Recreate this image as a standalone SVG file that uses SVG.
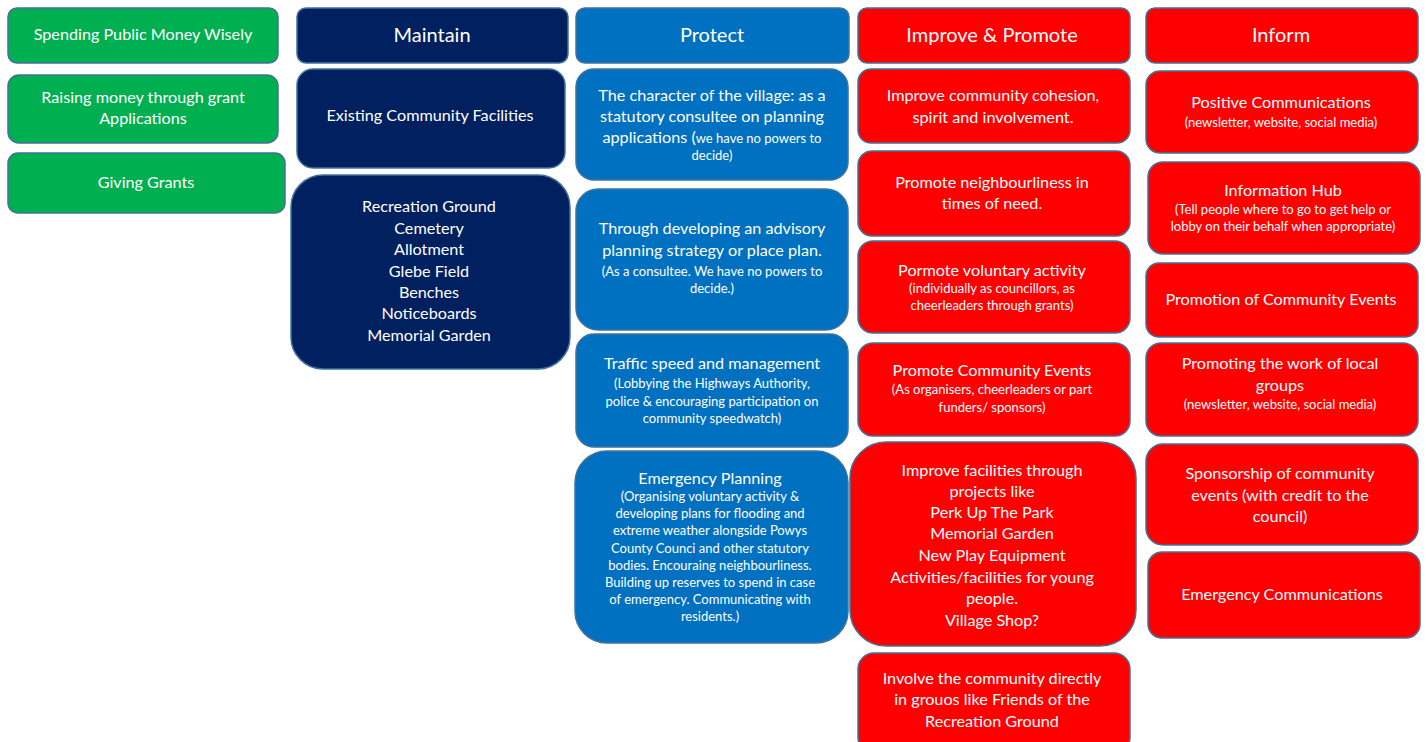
<svg xmlns="http://www.w3.org/2000/svg" width="1426" height="742" viewBox="0 0 1426 742">
<style>
.g,.n,.b,.r{stroke:#41719C;stroke-width:1.5}
.g{fill:#00B050}.n{fill:#002060}.b{fill:#0070C0}.r{fill:#FF0000}
text{font-family:Lato,"Liberation Sans",sans-serif;fill:#fff;text-anchor:middle;font-size:16.2px}
.h{font-size:20px}
.s{font-size:13px}
</style>
<rect width="1426" height="742" fill="#fff"/>
<g id="green-1"><rect class="g" x="8" y="8" width="270" height="55" rx="9"/><text x="143" y="40">Spending Public Money Wisely</text></g>
<g id="green-2"><rect class="g" x="8" y="75" width="270" height="68" rx="11"/><text x="143" y="103">Raising money through grant</text><text x="143" y="124">Applications</text></g>
<g id="green-3"><rect class="g" x="8" y="153" width="277" height="60" rx="10"/><text x="146" y="188">Giving Grants</text></g>

<g id="maintain"><rect class="n" x="297" y="8" width="271" height="55" rx="9"/><text class="h" x="432" y="42">Maintain</text></g>
<g id="existing"><rect class="n" x="297" y="69" width="268" height="99" rx="16"/><text x="430" y="121">Existing Community Facilities</text></g>
<g id="facilities"><rect class="n" x="291" y="175" width="279" height="194" rx="32"/>
<text x="429" y="212">Recreation Ground</text><text x="429" y="234">Cemetery</text><text x="429" y="255">Allotment</text><text x="429" y="277">Glebe Field</text><text x="429" y="298">Benches</text><text x="429" y="319">Noticeboards</text><text x="429" y="341">Memorial Garden</text></g>

<g id="protect"><rect class="b" x="576" y="8" width="273" height="55" rx="9"/><text class="h" x="712" y="42">Protect</text></g>
<g id="character"><rect class="b" x="576" y="69" width="272" height="111" rx="18"/>
<text x="712" y="101">The character of the village: as a</text><text x="712" y="122">statutory consultee on planning</text><text x="712" y="143">applications (<tspan class="s">we have no powers to</tspan></text><text class="s" x="712" y="160">decide)</text></g>
<g id="advisory"><rect class="b" x="576" y="189" width="272" height="141" rx="22"/>
<text x="712" y="234">Through developing an advisory</text><text x="712" y="256">planning strategy or place plan.</text><text class="s" x="712" y="276">(As a consultee. We have no powers to</text><text class="s" x="712" y="293">decide.)</text></g>
<g id="traffic"><rect class="b" x="576" y="334" width="272" height="113" rx="18"/>
<text x="712" y="369">Traffic speed and management</text><text class="s" x="712" y="388">(Lobbying the Highways Authority,</text><text class="s" x="712" y="406">police &amp; encouraging participation on</text><text class="s" x="712" y="423">community speedwatch)</text></g>
<g id="emergency-planning"><rect class="b" x="575" y="451" width="273" height="192" rx="32"/>
<text x="710" y="484">Emergency Planning</text>
<text class="s" x="710" y="501">(Organising voluntary activity &amp;</text><text class="s" x="710" y="518">developing plans for flooding and</text><text class="s" x="710" y="535">extreme weather alongside Powys</text><text class="s" x="710" y="553">County Counci and other statutory</text><text class="s" x="710" y="570">bodies. Encouraing neighbourliness.</text><text class="s" x="710" y="587">Building up reserves to spend in case</text><text class="s" x="710" y="604">of emergency. Communicating with</text><text class="s" x="710" y="621">residents.)</text></g>

<g id="improve"><rect class="r" x="858" y="8" width="272" height="55" rx="9"/><text class="h" x="992" y="42">Improve &amp; Promote</text></g>
<g id="cohesion"><rect class="r" x="858" y="69" width="272" height="74" rx="13"/><text x="993" y="101">Improve community cohesion,</text><text x="993" y="123">spirit and involvement.</text></g>
<g id="neighbourliness"><rect class="r" x="858" y="151" width="272" height="85" rx="14"/><text x="992" y="188">Promote neighbourliness in</text><text x="992" y="209">times of need.</text></g>
<g id="voluntary"><rect class="r" x="858" y="241" width="272" height="92" rx="15"/><text x="992" y="276">Pormote voluntary activity</text><text class="s" x="992" y="293">(individually as councillors, as</text><text class="s" x="992" y="310">cheerleaders through grants)</text></g>
<g id="community-events"><rect class="r" x="858" y="343" width="272" height="93" rx="15"/><text x="992" y="376">Promote Community Events</text><text class="s" x="992" y="394">(As organisers, cheerleaders or part</text><text class="s" x="992" y="412">funders/ sponsors)</text></g>
<g id="improve-facilities"><rect class="r" x="850" y="442" width="286" height="204" rx="36"/>
<text x="992" y="476">Improve facilities through</text><text x="992" y="497">projects like</text><text x="992" y="518">Perk Up The Park</text><text x="992" y="539">Memorial Garden</text><text x="992" y="561">New Play Equipment</text><text x="992" y="583">Activities/facilities for young</text><text x="992" y="604">people.</text><text x="992" y="626">Village Shop?</text></g>
<g id="involve"><rect class="r" x="858" y="653" width="272" height="100" rx="16"/><text x="992" y="684">Involve the community directly</text><text x="992" y="705">in grouos like Friends of the</text><text x="992" y="727">Recreation Ground</text></g>

<g id="inform"><rect class="r" x="1146" y="8" width="272" height="55" rx="9"/><text class="h" x="1281" y="42">Inform</text></g>
<g id="positive"><rect class="r" x="1146" y="71" width="272" height="82" rx="14"/><text x="1281" y="108">Positive Communications</text><text class="s" x="1281" y="127">(newsletter, website, social media)</text></g>
<g id="hub"><rect class="r" x="1148" y="162" width="272" height="92" rx="15"/><text x="1283" y="196">Information Hub</text><text class="s" x="1283" y="214">(Tell people where to go to get help or</text><text class="s" x="1283" y="231">lobby on their behalf when appropriate)</text></g>
<g id="promotion"><rect class="r" x="1146" y="263" width="272" height="74" rx="13"/><text x="1281" y="305">Promotion of Community Events</text></g>
<g id="local-groups"><rect class="r" x="1146" y="343" width="272" height="93" rx="15"/><text x="1280" y="369">Promoting the work of local</text><text x="1280" y="391">groups</text><text class="s" x="1280" y="409">(newsletter, website, social media)</text></g>
<g id="sponsorship"><rect class="r" x="1146" y="444" width="272" height="101" rx="17"/><text x="1280" y="479">Sponsorship of community</text><text x="1280" y="501">events (with credit to the</text><text x="1280" y="522">council)</text></g>
<g id="emergency-comms"><rect class="r" x="1148" y="552" width="272" height="86" rx="14"/><text x="1282" y="600">Emergency Communications</text></g>
<g id="connectors"></g>
</svg>
